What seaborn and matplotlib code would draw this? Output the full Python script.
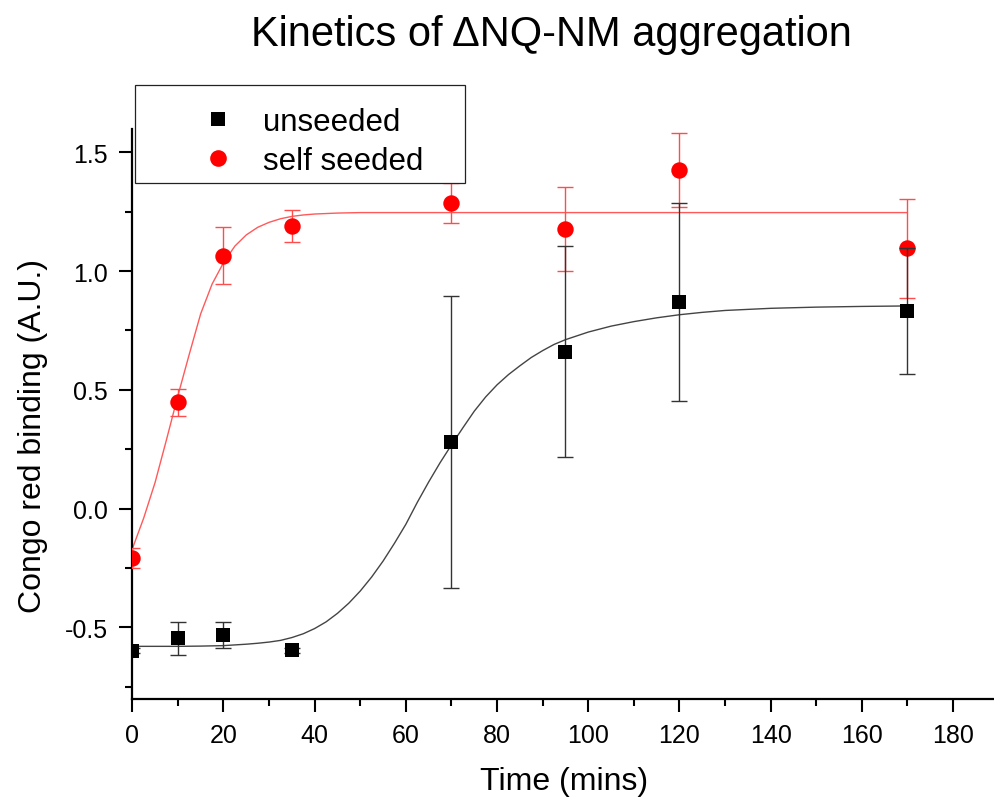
import matplotlib
matplotlib.use("Agg")
import matplotlib.pyplot as plt
from matplotlib.lines import Line2D
from matplotlib.patches import Rectangle
from matplotlib.ticker import MultipleLocator, FormatStrFormatter
import seaborn as sns
import pandas as pd

# measured Congo red binding (mean +/- error) at each sampling time
time_unseeded = [0, 10, 20, 35, 70, 95, 120, 170]
unseeded = [-0.599, -0.546, -0.532, -0.596, 0.281, 0.660, 0.871, 0.833]
unseeded_err = [0.01, 0.07, 0.053, 0.01, 0.615, 0.444, 0.417, 0.266]

time_self = [0, 10, 20, 35, 70, 95, 120, 170]
self_seeded = [-0.208, 0.447, 1.065, 1.191, 1.287, 1.177, 1.427, 1.096]
self_err = [0.044, 0.056, 0.12, 0.068, 0.085, 0.175, 0.156, 0.209]

# sigmoidal fit curves sampled along time
fit_time_unseeded = [0, 5, 10, 15, 20, 25, 27.5, 30, 32.5, 35, 37.5, 40, 42.5,
                     45, 47.5, 50, 52.5, 55, 57.5, 60, 62.5, 65, 67.5, 70,
                     72.5, 75, 77.5, 80, 82.5, 85, 87.5, 90, 92.5, 95, 97.5,
                     100, 105, 110, 115, 120, 125, 130, 140, 150, 160, 170]
fit_unseeded = [-0.580, -0.580, -0.580, -0.579, -0.577, -0.571, -0.567, -0.562,
                -0.555, -0.543, -0.527, -0.505, -0.477, -0.441, -0.398, -0.347,
                -0.288, -0.221, -0.146, -0.066, 0.026, 0.112, 0.193, 0.268,
                0.340, 0.410, 0.470, 0.521, 0.564, 0.601, 0.636, 0.665, 0.691,
                0.711, 0.727, 0.743, 0.768, 0.787, 0.803, 0.816, 0.826, 0.834,
                0.843, 0.848, 0.851, 0.853]

fit_time_self = [0, 2.5, 5, 7.5, 10, 12.5, 15, 17.5, 20, 22.5, 25, 27.5, 30,
                 32.5, 35, 37.5, 40, 45, 50, 60, 80, 100, 120, 140, 170]
fit_self = [-0.17, -0.04, 0.11, 0.29, 0.475, 0.65, 0.82, 0.945, 1.035, 1.105,
            1.152, 1.184, 1.205, 1.220, 1.230, 1.236, 1.240, 1.244, 1.246,
            1.246, 1.246, 1.246, 1.246, 1.246, 1.246]

x_ticks = [0, 20, 40, 60, 80, 100, 120, 140, 160, 180]
y_ticks = [-0.5, 0.0, 0.5, 1.0, 1.5]

sns.set_theme(style="ticks")
plt.rcParams["font.family"] = ["Liberation Sans", "DejaVu Sans"]
plt.rcParams["axes.unicode_minus"] = False
plt.rcParams["text.color"] = "black"

BLACK = "#000000"
RED = "#ff0000"

W, H = 995, 804
fig = plt.figure(figsize=(W / 100, H / 100), dpi=100)
ax = fig.add_axes([0.13296, 0.12985, 0.86704, 0.70908])

df_fit_u = pd.DataFrame({"t": fit_time_unseeded, "y": fit_unseeded})
df_fit_s = pd.DataFrame({"t": fit_time_self, "y": fit_self})
df_u = pd.DataFrame({"t": time_unseeded, "y": unseeded, "e": unseeded_err})
df_s = pd.DataFrame({"t": time_self, "y": self_seeded, "e": self_err})

# fitted curves
sns.lineplot(data=df_fit_s, x="t", y="y", ax=ax, color="#ff3030", lw=1.0,
             alpha=0.8, zorder=2)
sns.lineplot(data=df_fit_u, x="t", y="y", ax=ax, color="#444444", lw=1.0,
             zorder=2)

# self-seeded: error bars and points
ax.errorbar(df_s["t"], df_s["y"], yerr=df_s["e"], fmt="none", ecolor="#ff4d4d",
            elinewidth=1.0, capsize=5.5, capthick=1.0, zorder=3)
sns.scatterplot(data=df_s, x="t", y="y", ax=ax, marker="o", s=140,
                color=RED, linewidth=0, zorder=4)

# unseeded: error bars and points
ax.errorbar(df_u["t"], df_u["y"], yerr=df_u["e"], fmt="none", ecolor="#333333",
            elinewidth=1.0, capsize=5.5, capthick=1.0, zorder=5)
sns.scatterplot(data=df_u, x="t", y="y", ax=ax, marker="s", s=100,
                color=BLACK, linewidth=0, zorder=6)

ax.set_xlim(0, 189.2)
ax.set_ylim(-0.8, 1.6)
ax.set_xticks(x_ticks)
ax.set_yticks(y_ticks)
ax.xaxis.set_minor_locator(MultipleLocator(10))
ax.yaxis.set_minor_locator(MultipleLocator(0.25))
ax.yaxis.set_major_formatter(FormatStrFormatter("%.1f"))

for side in ("top", "right"):
    ax.spines[side].set_visible(False)
for side in ("left", "bottom"):
    ax.spines[side].set_linewidth(1.6)
    ax.spines[side].set_color("black")

ax.tick_params(axis="both", which="major", direction="out", length=9.5,
               width=1.5, color="black", labelsize=18, labelcolor="black")
ax.tick_params(axis="both", which="minor", direction="out", length=5,
               width=1.5, color="black")
ax.tick_params(axis="x", which="major", pad=8)
ax.tick_params(axis="y", which="major", pad=8)

ax.set_xlabel("Time (mins)", fontsize=23, color="black")
ax.set_ylabel("Congo red binding (A.U.)", fontsize=23, color="black")
ax.xaxis.set_label_coords(0.5, -0.118)
ax.yaxis.set_label_coords(-0.098, 0.4624)

fig.text(0.554, 1 - 46 / H, "Kinetics of \u0394NQ-NM aggregation",
         fontsize=30, ha="center", va="baseline", color="black")

# legend box: white panel with thin dark border, overlapping the axis top
box_l, box_t, box_r, box_b = 135, 86, 465, 184
fig.patches.append(Rectangle((box_l / W, 1 - box_b / H),
                             (box_r - box_l) / W, (box_b - box_t) / H,
                             transform=fig.transFigure, facecolor="white",
                             edgecolor="#222222", linewidth=0.9, zorder=9))

handles = [
    Line2D([], [], linestyle="none", marker="s", markersize=10,
           color=BLACK, markeredgewidth=0),
    Line2D([], [], linestyle="none", marker="o", markersize=12,
           color=RED, markeredgewidth=0),
]
leg = fig.legend(handles, ["unseeded", "self seeded"],
                 loc="upper left",
                 bbox_to_anchor=(box_l / W, 1 - (box_t + 7) / H),
                 bbox_transform=fig.transFigure,
                 fontsize=22.5, frameon=False,
                 borderpad=0.48, labelspacing=0.3, handlelength=4.35,
                 handletextpad=-0.73, borderaxespad=0.0, labelcolor="black")
leg.set_zorder(10)

fig.savefig("out.png", dpi=100)
